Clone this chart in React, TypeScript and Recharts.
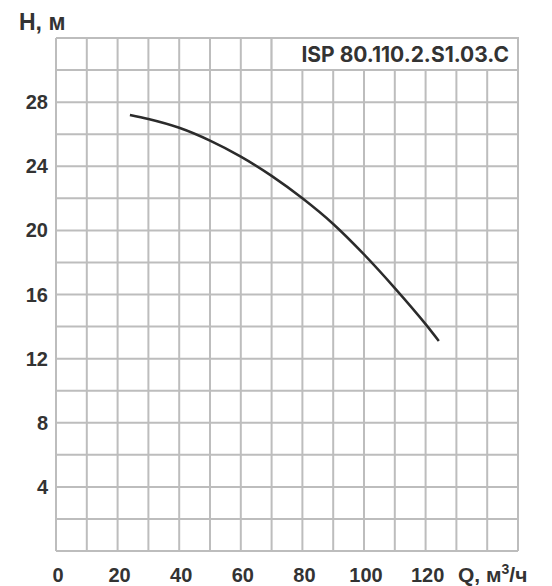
import { LineChart, Line, XAxis, YAxis, CartesianGrid, ReferenceArea } from 'recharts';

// pump curve: Q (m3/h) -> H (m)
const flow = [24, 30, 40, 50, 60, 70, 80, 90, 100, 110, 120, 124.3];
const head = [27.2, 26.95, 26.4, 25.6, 24.6, 23.4, 22.0, 20.4, 18.5, 16.4, 14.15, 13.1];

const xGridTicks = [0, 10, 20, 30, 40, 50, 60, 70, 80, 90, 100, 110, 120, 130, 140, 150];
const xTickLabels = [0, 20, 40, 60, 80, 100, 120];
const yGridTicks = [0, 2, 4, 6, 8, 10, 12, 14, 16, 18, 20, 22, 24, 26, 28, 30, 32];
const yTickLabels = [4, 8, 12, 16, 20, 24, 28];

const modelName = 'ISP 80.110.2.S1.03.C';

const data = flow.map((q, i) => ({ q, h: head[i] }));

const FONT = '"Liberation Sans", Arial, sans-serif';
const MODEL_FONT = 'Inter, Roboto, sans-serif';
const TEXT = '#333333';
const GRID = '#bdbdbd';

function XTick({ x, y, payload }: any) {
  if (!xTickLabels.includes(payload.value)) return null;
  return (
    <text x={x + 2} y={y + 31} textAnchor="middle" fontFamily={FONT} fontWeight={700} fontSize={20} fill={TEXT}>
      {payload.value}
    </text>
  );
}

function YTick({ x, y, payload }: any) {
  if (!yTickLabels.includes(payload.value)) return null;
  return (
    <text x={x} y={y + 7} textAnchor="end" fontFamily={FONT} fontWeight={700} fontSize={20} fill={TEXT}>
      {payload.value}
    </text>
  );
}

function ModelLabel({ viewBox }: any) {
  const { x, y, width, height } = viewBox;
  return (
    <text x={x + width - 9} y={y + height / 2 + 8} textAnchor="end" fontFamily={MODEL_FONT} fontWeight={700} fontSize={21} fill={TEXT}>
      {modelName}
    </text>
  );
}

function QLabel({ viewBox }: any) {
  const { x, y, width } = viewBox;
  return (
    <text x={x + width - 60} y={y + 31} fontFamily={FONT} fontWeight={700} fontSize={21} fill={TEXT}>
      Q, м<tspan dy={-8} fontSize={14}>3</tspan><tspan dy={8}>/ч</tspan>
    </text>
  );
}

function HLabel() {
  return (
    <text x={19} y={30} fontFamily={FONT} fontWeight={700} fontSize={23} fill={TEXT}>
      H, м
    </text>
  );
}

export default function App() {
  return (
    <div style={{ position: 'absolute', left: 0, top: 0, width: 552, height: 586, background: '#fff' }}>
      <LineChart width={552} height={586} data={data} margin={{ top: 38, right: 34, bottom: 0, left: 0 }}>
        <CartesianGrid stroke={GRID} strokeWidth={2} />
        <XAxis
          dataKey="q"
          type="number"
          domain={[0, 150]}
          ticks={xGridTicks}
          interval={0}
          tick={<XTick />}
          tickSize={0}
          tickMargin={0}
          tickLine={false}
          axisLine={false}
          height={35}
          label={{ content: <QLabel /> }}
        />
        <YAxis
          type="number"
          domain={[0, 32]}
          ticks={yGridTicks}
          interval={0}
          tick={<YTick />}
          tickSize={0}
          tickMargin={8}
          tickLine={false}
          axisLine={false}
          width={56}
          label={{ content: <HLabel /> }}
        />
        <ReferenceArea
          x1={70}
          x2={150}
          y1={30}
          y2={32}
          fill="#ffffff"
          fillOpacity={1}
          stroke={GRID}
          strokeWidth={2}
          label={<ModelLabel />}
        />
        <Line
          type="monotone"
          dataKey="h"
          stroke="#2b2b2b"
          strokeWidth={2.5}
          dot={false}
          isAnimationActive={false}
        />
      </LineChart>
    </div>
  );
}
